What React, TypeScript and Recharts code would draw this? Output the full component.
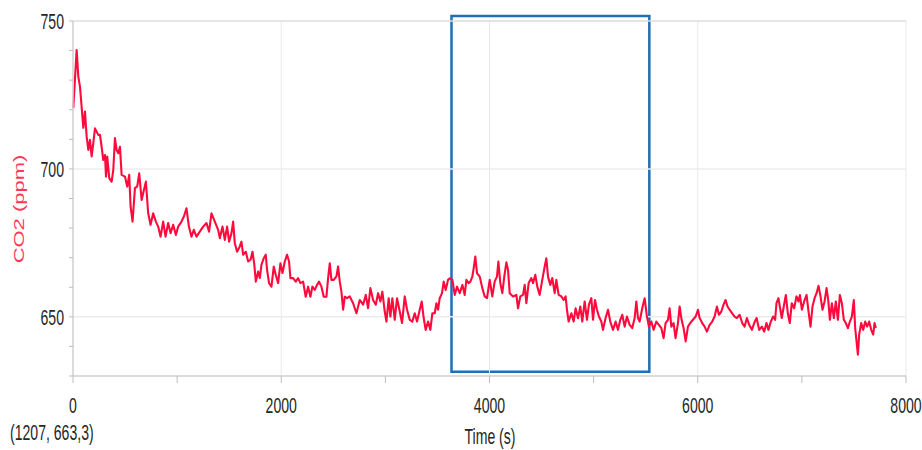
import React from "react";
import { LineChart, Line, XAxis, YAxis, ReferenceLine, ReferenceArea } from "recharts";

const timeSec: number[] = [
  3, 35, 51, 67, 83, 99, 115, 131, 147, 163, 179, 195, 211, 243, 259, 275, 291, 307, 317, 329, 348, 371, 387, 403, 419, 435, 451, 467, 499, 521, 540, 553, 572, 595, 617, 636, 659, 681, 700, 722, 745, 770, 796, 818, 841, 866, 889, 914, 937, 962, 988, 1010, 1042, 1065, 1090, 1113, 1138, 1160, 1186, 1218, 1250, 1282, 1307,
  1330, 1362, 1394, 1410, 1436, 1458, 1480, 1499, 1522, 1538, 1554, 1576, 1602, 1618, 1634, 1660, 1682, 1705, 1724, 1740, 1756, 1778, 1794, 1810, 1832, 1851, 1864, 1883, 1906, 1928, 1947, 1970, 1992, 2012, 2034, 2056, 2075, 2088, 2114, 2139, 2162, 2184, 2210, 2235, 2258, 2280, 2299, 2322, 2344, 2363, 2386, 2408, 2434, 2450, 2466, 2482, 2504, 2530, 2546, 2562, 2578, 2594, 2610, 2632,
  2658, 2690, 2722, 2754, 2786, 2812, 2834, 2856, 2882, 2908, 2930, 2952, 2971, 2994, 3010, 3032, 3048, 3067, 3090, 3112, 3138, 3160, 3186, 3208, 3234, 3259, 3282, 3304, 3330, 3349, 3368, 3387, 3410, 3432, 3451, 3474, 3490, 3506, 3522, 3544, 3560, 3579, 3602, 3618, 3644, 3666, 3688, 3714, 3740, 3762, 3778, 3800, 3816, 3835, 3848, 3864, 3880, 3906, 3931, 3954, 3976,
  4002, 4027, 4050, 4072, 4085, 4104, 4123, 4142, 4162, 4178, 4194, 4226, 4258, 4274, 4296, 4322, 4338, 4354, 4376, 4402, 4418, 4440, 4459, 4482, 4507, 4530, 4546, 4562, 4584, 4603, 4626, 4642, 4664, 4690, 4712, 4731, 4744, 4760, 4786, 4808, 4827, 4850, 4872, 4891, 4914, 4936, 4955, 4978, 4994, 5013, 5032, 5051, 5074, 5090, 5115, 5138, 5160, 5186, 5211, 5234, 5256, 5275, 5298, 5320, 5346, 5371, 5394, 5410, 5426, 5442,
  5467, 5490, 5512, 5531, 5554, 5576, 5602, 5627, 5650, 5672, 5691, 5714, 5730, 5746, 5768, 5787, 5810, 5826, 5845, 5864, 5884, 5906, 5928, 5954, 5980, 6002, 6018, 6043, 6066, 6088, 6114, 6139, 6162, 6184, 6203, 6226, 6248, 6267, 6286, 6306, 6331, 6354, 6376, 6402, 6427, 6450, 6472,
  6494, 6520, 6542, 6565, 6590, 6616, 6638, 6660, 6679, 6702, 6724, 6743, 6756, 6775, 6791, 6807, 6826, 6846, 6865, 6884, 6903, 6926, 6948, 6967, 6981, 7000, 7022, 7045, 7064, 7083, 7102, 7122, 7141, 7160, 7179, 7198, 7218, 7237, 7253, 7269, 7288, 7307, 7326, 7346, 7365, 7384, 7403, 7422, 7442, 7461, 7480, 7499, 7512, 7525, 7538, 7550, 7570, 7589, 7608, 7627, 7646, 7666, 7685, 7698, 7710,
];

const co2Ppm: number[] = [
  720.6, 740.2, 731.2, 727.8, 721.0, 713.9, 719.4, 711.0, 706.4, 709.8, 704.2, 708.7, 713.7, 711.5, 711.5, 707.5, 703.0, 704.7, 697.4, 704.2, 696.9, 695.7, 699.7, 710.4, 706.4, 705.3, 707.5, 698.0, 697.4, 694.0, 698.0, 687.3, 682.2, 693.5, 694.1, 698.5, 689.5, 692.9, 695.7, 685.0, 681.1, 685.0, 682.2, 680.5, 677.1, 682.2, 677.1, 681.7, 678.3, 681.1, 677.7, 680.5, 682.2, 683.9, 686.7, 680.5, 677.1, 679.4, 677.1, 678.8, 680.5, 681.7, 678.8,
  685.0, 682.2, 679.4, 676.6, 680.5, 676.0, 680.5, 675.4, 678.3, 682.2, 674.9, 672.0, 673.8, 675.4, 671.0, 672.0, 668.7, 669.3, 672.0, 668.1, 661.9, 665.3, 663.1, 667.6, 669.8, 671.0, 665.9, 661.4, 660.2, 667.0, 664.2, 661.4, 668.1, 664.8, 668.7, 671.0, 668.7, 663.1, 663.1, 661.9, 663.1, 661.4, 661.9, 656.8, 660.2, 656.8, 660.2, 659.1, 660.8, 661.9, 660.2, 656.8, 656.8, 663.1, 668.1, 662.5, 662.5, 663.7, 667.0, 661.9, 658.5, 652.4, 656.8, 656.3,
  656.9, 654.6, 651.2, 655.7, 654.1, 657.4, 652.9, 659.7, 655.7, 654.1, 658.0, 655.2, 658.5, 651.8, 648.4, 656.3, 650.1, 656.3, 649.0, 656.3, 651.8, 647.9, 656.9, 652.4, 649.0, 648.4, 651.2, 648.4, 652.4, 655.2, 649.6, 645.6, 648.4, 645.6, 651.2, 651.2, 654.6, 652.4, 656.3, 658.0, 661.9, 659.1, 662.5, 663.0, 662.5, 657.4, 660.2, 658.0, 660.8, 657.4, 662.5, 661.4, 661.9, 663.6, 666.4, 670.4, 664.8, 663.6, 659.7, 656.9, 656.3,
  662.5, 656.9, 662.0, 663.6, 668.7, 661.4, 658.0, 663.6, 668.4, 665.9, 658.0, 656.9, 657.4, 652.9, 656.9, 657.4, 660.8, 654.6, 661.4, 663.1, 661.4, 664.2, 660.2, 657.4, 662.5, 667.0, 669.8, 663.6, 660.8, 663.1, 658.0, 662.5, 657.4, 656.9, 655.7, 656.9, 652.4, 648.4, 651.2, 648.4, 652.9, 649.5, 653.5, 648.4, 655.2, 649.0, 654.1, 656.3, 649.0, 655.7, 652.4, 650.1, 648.4, 645.6, 649.6, 652.4, 648.4, 645.6, 648.4, 645.6, 649.0, 650.7, 646.7, 650.1, 647.3, 646.2, 649.6, 655.2, 649.6, 648.4,
  652.9, 656.3, 650.1, 646.7, 648.4, 645.6, 648.4, 647.3, 646.2, 642.8, 647.9, 649.0, 652.9, 646.7, 647.9, 642.8, 647.9, 653.5, 649.0, 646.2, 641.7, 646.7, 647.9, 649.0, 650.1, 652.4, 649.6, 647.9, 646.7, 645.0, 647.3, 648.4, 650.1, 653.5, 650.7, 651.8, 654.1, 655.7, 653.5, 652.4, 651.2, 650.1, 649.6, 650.7, 647.9, 646.7, 649.6,
  647.3, 645.6, 647.9, 649.6, 645.6, 646.7, 645.0, 647.9, 645.6, 648.4, 650.1, 649.0, 654.6, 656.3, 652.9, 649.6, 653.5, 657.4, 651.2, 647.9, 654.6, 652.9, 656.9, 655.2, 657.4, 652.4, 655.2, 657.4, 651.8, 646.7, 653.5, 656.3, 658.0, 660.5, 656.9, 652.4, 655.2, 659.7, 655.7, 649.0, 654.6, 649.6, 655.2, 649.0, 657.4, 654.6, 649.0, 647.9, 646.2, 648.4, 650.1, 655.7, 646.2, 641.7, 637.2, 644.0, 647.9, 645.6, 648.4, 646.7, 648.4, 645.6, 644.0, 647.9, 646.2,
];

const xTicks: number[] = [0, 1000, 2000, 3000, 4000, 5000, 6000, 7000, 8000];
const xLabelTicks: number[] = [0, 2000, 4000, 6000, 8000];
const yTicks: number[] = [630, 640, 650, 660, 670, 680, 690, 700, 710, 720, 730, 740, 750];
const yLabelTicks: number[] = [650, 700, 750];
const highlight = { x1: 3635, x2: 5535, y1: 631.4, y2: 751.7 };

const rows = timeSec.map((t, i) => ({ t, co2: co2Ppm[i] }));

const FONT = "'Liberation Sans', Arial, sans-serif";
const SQUEEZE = 0.64;
const TEXT_COLOR = "#262626";

const XTick = (props: any) => {
  const { x, y, payload } = props;
  if (!xLabelTicks.includes(payload.value)) return null;
  return (
    <text
      transform={`translate(${x},${y + 28}) scale(${SQUEEZE},1)`}
      textAnchor="middle"
      fontFamily={FONT}
      fontSize={22}
      fill={TEXT_COLOR}
    >
      {payload.value}
    </text>
  );
};

const YTick = (props: any) => {
  const { x, y, payload } = props;
  if (!yLabelTicks.includes(payload.value)) return null;
  return (
    <text
      transform={`translate(${x - 3},${y + 8}) scale(${SQUEEZE},1)`}
      textAnchor="end"
      fontFamily={FONT}
      fontSize={22}
      fill={TEXT_COLOR}
    >
      {payload.value}
    </text>
  );
};

const renderXLabel = () => (
  <g>
    <text
      transform={`translate(490,444) scale(${SQUEEZE},1)`}
      textAnchor="middle"
      fontFamily={FONT}
      fontSize={22}
      fill={TEXT_COLOR}
    >
      Time (s)
    </text>
    <text
      transform={`translate(10,440) scale(${SQUEEZE},1)`}
      textAnchor="start"
      fontFamily={FONT}
      fontSize={22}
      fill={TEXT_COLOR}
    >
      (1207, 663,3)
    </text>
  </g>
);

const renderYLabel = () => (
  <text
    transform={`translate(24,209) rotate(-90) scale(1,${SQUEEZE})`}
    textAnchor="middle"
    fontFamily={FONT}
    fontSize={22}
    fill="#ff3858"
  >
    CO2 (ppm)
  </text>
);

export default function App() {
  return (
    <div style={{ position: "absolute", left: 0, top: 0, background: "#fff" }}>
      <LineChart
        width={922}
        height={450}
        data={rows}
        margin={{ top: 21, right: 16, bottom: 44, left: 13 }}
      >
        {[2000, 4000, 6000, 8000].map((v) => (
          <ReferenceLine key={"vx" + v} x={v} stroke="#e8e8e8" strokeWidth={1} />
        ))}
        {[650, 700].map((v) => (
          <ReferenceLine key={"hy" + v} y={v} stroke="#ececec" strokeWidth={1.5} />
        ))}
        <ReferenceLine y={750} stroke="#dcdcdc" strokeWidth={1.5} />
        <XAxis
          dataKey="t"
          type="number"
          domain={[0, 8000]}
          ticks={xTicks}
          interval={0}
          height={30}
          tickSize={7}
          axisLine={{ stroke: "#cfcfcf", strokeWidth: 1.5 }}
          tickLine={{ stroke: "#bdbdbd" }}
          tick={<XTick />}
          label={renderXLabel}
        />
        <YAxis
          type="number"
          domain={[630, 750]}
          ticks={yTicks}
          interval={0}
          width={60}
          tickSize={4}
          axisLine={{ stroke: "#cfcfcf", strokeWidth: 1.5 }}
          tickLine={{ stroke: "#bdbdbd" }}
          tick={<YTick />}
          label={renderYLabel}
          allowDataOverflow
        />
        <Line
          type="linear"
          dataKey="co2"
          stroke="#ff0a3c"
          strokeWidth={2.1}
          strokeLinejoin="round"
          dot={false}
          isAnimationActive={false}
        />
        <ReferenceArea
          x1={highlight.x1}
          x2={highlight.x2}
          y1={highlight.y1}
          y2={highlight.y2}
          fill="none"
          fillOpacity={0}
          stroke="#1f6fb5"
          strokeWidth={2.5}
          ifOverflow="visible"
        />
      </LineChart>
    </div>
  );
}
